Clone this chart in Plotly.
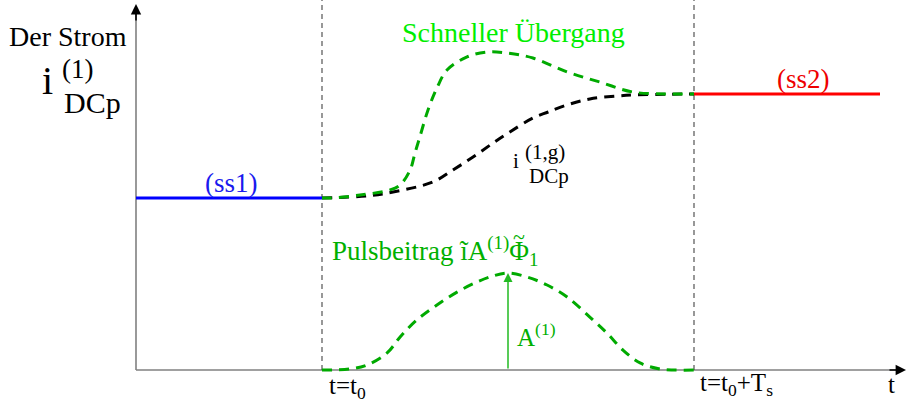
import plotly.graph_objects as go

# --- schematic data (time in units of T_s, current in units of the ss1 level) ---
t0 = 0.0            # switching instant t = t0
t_end = 1.0         # t = t0 + Ts
t_axis_start = -0.5
t_ss2_end = 1.5

ss1_level = 1.0
ss2_level = 1.605

# fast transition ("Schneller Übergang")
t_fast = [0.0, 0.022, 0.102, 0.183, 0.210, 0.237, 0.250, 0.263, 0.285, 0.309,
          0.336, 0.390, 0.444, 0.497, 0.567, 0.659, 0.747, 0.836, 0.927, 1.0]
i_fast = [1.0, 1.0, 1.017, 1.047, 1.076, 1.163, 1.262, 1.355, 1.512, 1.640,
          1.744, 1.820, 1.849, 1.843, 1.814, 1.733, 1.674, 1.616, 1.605, 1.605]

# gradual transition i_DCp^(1,g)
t_slow = [0.0, 0.121, 0.191, 0.298, 0.352, 0.406, 0.460, 0.505, 0.567, 0.608,
          0.659, 0.720, 0.793, 0.836, 0.927, 1.0]
i_slow = [1.0, 1.012, 1.035, 1.093, 1.163, 1.238, 1.320, 1.384, 1.465, 1.500,
          1.541, 1.576, 1.593, 1.599, 1.603, 1.605]

# pulse contribution
t_pulse = [0.0, 0.075, 0.121, 0.175, 0.210, 0.255, 0.309, 0.363, 0.417, 0.460,
           0.5, 0.551, 0.605, 0.659, 0.720, 0.766, 0.809, 0.855, 0.909, 1.0]
a_pulse = [0.0, 0.006, 0.029, 0.099, 0.192, 0.291, 0.378, 0.453, 0.512, 0.547,
           0.564, 0.541, 0.494, 0.424, 0.308, 0.215, 0.116, 0.041, 0.006, 0.0]
t_peak = 0.5
A_peak = 0.564

# --- figure geometry helpers: screen pixel -> data coordinates ---
W, H = 909, 410
PX_T0, PX_T1 = 322.0, 694.0
PY_ZERO, PY_SS1 = 370.0, 198.0
SX = PX_T1 - PX_T0
SY = PY_ZERO - PY_SS1


def dx(px):
    return (px - PX_T0) / SX


def dy(py):
    return (PY_ZERO - py) / SY


SERIF = "Liberation Serif, Times New Roman, Times, DejaVu Serif, serif"
GREEN_LINE = "#00aa00"
GREEN_TEXT = "#00b000"
GREEN_BRIGHT = "#00ee00"
AXIS_GRAY = "#808080"

fig = go.Figure()

# axes (gray lines)
fig.add_trace(go.Scatter(x=[t_axis_start, t_axis_start], y=[0, dy(12)], mode="lines",
                         line=dict(color=AXIS_GRAY, width=1.6), hoverinfo="skip"))
fig.add_trace(go.Scatter(x=[t_axis_start, dx(898)], y=[0, 0], mode="lines",
                         line=dict(color=AXIS_GRAY, width=1.6), hoverinfo="skip"))

# dashed markers at t0 and t0+Ts
for tv in (t0, t_end):
    fig.add_trace(go.Scatter(x=[tv, tv], y=[0, dy(0)], mode="lines",
                             line=dict(color="#444444", width=1.1, dash="5px,4px"),
                             hoverinfo="skip"))

# steady states
fig.add_trace(go.Scatter(x=[t_axis_start, t0], y=[ss1_level, ss1_level], mode="lines",
                         line=dict(color="#0000ff", width=3), hoverinfo="skip"))
fig.add_trace(go.Scatter(x=[t_end, t_ss2_end], y=[ss2_level, ss2_level], mode="lines",
                         line=dict(color="#ff0000", width=3), hoverinfo="skip"))

# transitions
fig.add_trace(go.Scatter(x=t_slow, y=i_slow, mode="lines",
                         line=dict(color="black", width=3, dash="10px,7px", shape="spline"),
                         hoverinfo="skip"))
fig.add_trace(go.Scatter(x=t_fast, y=i_fast, mode="lines",
                         line=dict(color=GREEN_LINE, width=3, dash="10px,7px", shape="spline"),
                         hoverinfo="skip"))
fig.add_trace(go.Scatter(x=t_pulse, y=a_pulse, mode="lines",
                         line=dict(color=GREEN_LINE, width=3, dash="10px,7px", shape="spline"),
                         hoverinfo="skip"))

annotations = []

# arrowheads of the axes
annotations.append(dict(x=t_axis_start, y=dy(4), ax=t_axis_start, ay=dy(22),
                        xref="x", yref="y", axref="x", ayref="y", text="",
                        showarrow=True, arrowhead=2, arrowsize=1.3, arrowwidth=1.6,
                        arrowcolor="black", standoff=0))
annotations.append(dict(x=dx(906), y=0, ax=dx(888), ay=0,
                        xref="x", yref="y", axref="x", ayref="y", text="",
                        showarrow=True, arrowhead=2, arrowsize=1.3, arrowwidth=1.6,
                        arrowcolor="black", standoff=0))

# amplitude arrow of the pulse
annotations.append(dict(x=t_peak, y=A_peak, ax=t_peak, ay=0,
                        xref="x", yref="y", axref="x", ayref="y", text="",
                        showarrow=True, arrowhead=2, arrowsize=1.2, arrowwidth=1.5,
                        arrowcolor="#22bb22", standoff=0))


def label(text, px, baseline, size, color="black", anchor="center"):
    annotations.append(dict(
        x=dx(px), y=dy(baseline - 0.3375 * size), xref="x", yref="y",
        text=text, showarrow=False, xanchor=anchor, yanchor="middle",
        font=dict(family=SERIF, size=size, color=color)))


label("Der Strom", 68, 46, 28)
label("i", 47, 94, 40)
label("(1)", 60, 78, 27, anchor="left")
label("DCp", 62, 113, 30, anchor="left")

label("Schneller Übergang", 513, 42, 28, GREEN_BRIGHT)
label("(ss1)", 231, 192, 27, "#1a1aee")
label("(ss2)", 803, 88, 27, "#ee0000")

label("i", 516, 168, 21)
label("(1,g)", 523, 159, 21, anchor="left")
label("DCp", 527, 183, 21, anchor="left")

label("Pulsbeitrag ĩA<sup>(1)</sup>Φ<sub>1</sub>", 330, 260, 27, GREEN_TEXT, anchor="left")
label("~", 519, 244, 22, GREEN_TEXT)
label("A<sup>(1)</sup>", 515, 343, 25, GREEN_TEXT, anchor="left")

label("t=t<sub>0</sub>", 327, 396, 25, anchor="left")
label("t=t<sub>0</sub>+T<sub>s</sub>", 698, 393, 25, anchor="left")
label("t", 891, 393, 25)

fig.update_layout(
    width=W, height=H,
    margin=dict(l=0, r=0, t=0, b=0),
    paper_bgcolor="white", plot_bgcolor="white",
    showlegend=False,
    xaxis=dict(range=[dx(0), dx(W)], visible=False, fixedrange=True),
    yaxis=dict(range=[dy(H), dy(0)], visible=False, fixedrange=True),
    annotations=annotations,
)

fig.write_html("out.html")
